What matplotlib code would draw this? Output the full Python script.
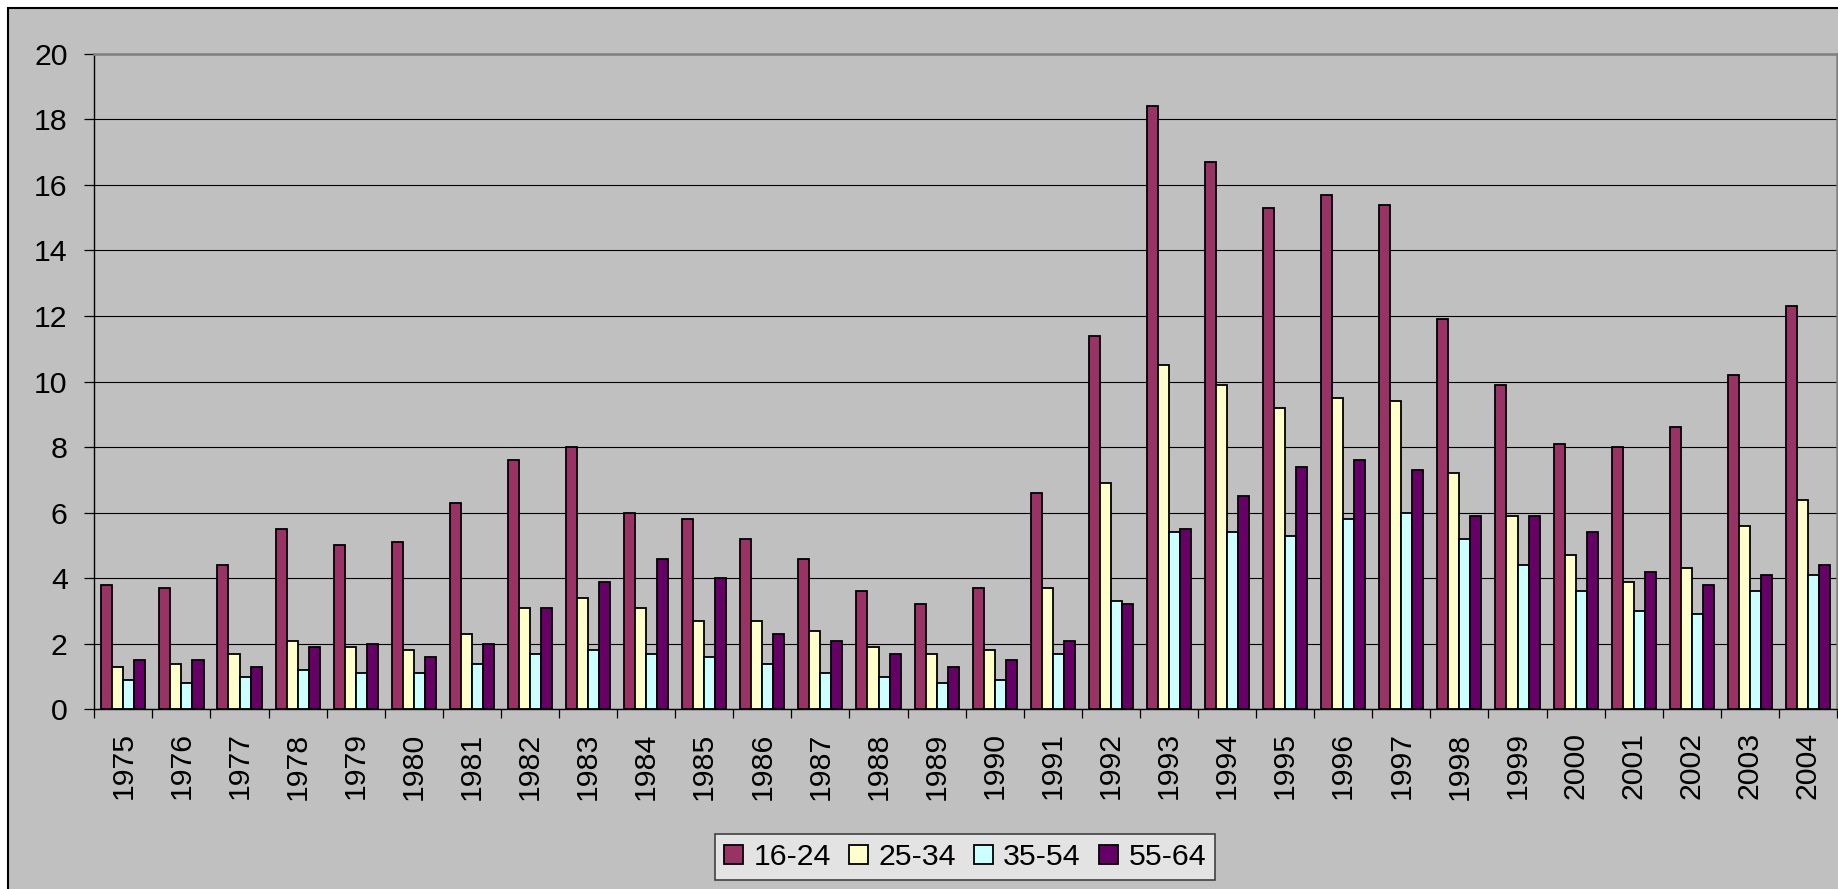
import matplotlib.pyplot as plt
from matplotlib.patches import Rectangle
import numpy as np

years = [str(y) for y in range(1975, 2005)]
series_names = ['16-24', '25-34', '35-54', '55-64']

age_16_24 = [3.8, 3.7, 4.4, 5.5, 5.0, 5.1, 6.3, 7.6, 8.0, 6.0,
             5.8, 5.2, 4.6, 3.6, 3.2, 3.7, 6.6, 11.4, 18.4, 16.7,
             15.3, 15.7, 15.4, 11.9, 9.9, 8.1, 8.0, 8.6, 10.2, 12.3]
age_25_34 = [1.3, 1.4, 1.7, 2.1, 1.9, 1.8, 2.3, 3.1, 3.4, 3.1,
             2.7, 2.7, 2.4, 1.9, 1.7, 1.8, 3.7, 6.9, 10.5, 9.9,
             9.2, 9.5, 9.4, 7.2, 5.9, 4.7, 3.9, 4.3, 5.6, 6.4]
age_35_54 = [0.9, 0.8, 1.0, 1.2, 1.1, 1.1, 1.4, 1.7, 1.8, 1.7,
             1.6, 1.4, 1.1, 1.0, 0.8, 0.9, 1.7, 3.3, 5.4, 5.4,
             5.3, 5.8, 6.0, 5.2, 4.4, 3.6, 3.0, 2.9, 3.6, 4.1]
age_55_64 = [1.5, 1.5, 1.3, 1.9, 2.0, 1.6, 2.0, 3.1, 3.9, 4.6,
             4.0, 2.3, 2.1, 1.7, 1.3, 1.5, 2.1, 3.2, 5.5, 6.5,
             7.4, 7.6, 7.3, 5.9, 5.9, 5.4, 4.2, 3.8, 4.1, 4.4]

colors = ['#993366', '#FFFFCC', '#CCFFFF', '#660066']

plt.rcParams['font.family'] = ['Liberation Sans', 'DejaVu Sans']
fs = 21.8

fig = plt.figure(figsize=(18.38, 8.89), dpi=100)
fig.patch.set_facecolor('white')
# grey chart area with black frame (right/bottom edges run off the image)
fig.patches.append(Rectangle((8 / 1838, -0.1), 1.2, 1.1 - 8 / 889,
                             transform=fig.transFigure, facecolor='#C0C0C0',
                             edgecolor='black', linewidth=1.5, zorder=-5))

ax = fig.add_axes([94.3 / 1838, 1 - 709.4 / 889, (1837 - 94.3) / 1838, (709.4 - 53.7) / 889])
ax.set_facecolor('#C0C0C0')

x = np.arange(len(years))
bw = 0.19
all_series = [age_16_24, age_25_34, age_35_54, age_55_64]
for i, (vals, name, col) in enumerate(zip(all_series, series_names, colors)):
    ax.bar(x + (i - 1.5) * bw, vals, width=bw, color=col, edgecolor='black',
           linewidth=1.3, label=name)

ax.set_xlim(-0.5, len(years) - 0.5)
ax.set_ylim(0, 20)
ax.set_yticks(range(0, 21, 2))
ax.set_axisbelow(True)
ax.yaxis.grid(True, color='black', linewidth=0.8)

ax.set_xticks(x)
ax.set_xticklabels(years, rotation=90, fontsize=fs)
ax.set_xticks(np.arange(-0.5, len(years)), minor=True)
ax.tick_params(axis='x', which='major', length=0, pad=16.5)
ax.tick_params(axis='x', which='minor', length=6.8, width=0.9, direction='out')
ax.tick_params(axis='y', length=7.2, width=0.9, pad=12, labelsize=fs)

for side in ['left', 'bottom']:
    ax.spines[side].set_color('black')
    ax.spines[side].set_linewidth(1.0)
for side in ['top', 'right']:
    ax.spines[side].set_color('#808080')
    ax.spines[side].set_linewidth(1.8)

leg = fig.legend(loc='center', bbox_to_anchor=(965 / 1838, 1 - 857 / 889), ncol=4,
                 fontsize=fs, frameon=True, fancybox=False, handlelength=0.64,
                 handleheight=0.6, handletextpad=0.33, columnspacing=0.6,
                 borderpad=0.3, borderaxespad=0)
leg.get_frame().set_facecolor('#E3E3E3')
leg.get_frame().set_edgecolor('#404040')
leg.get_frame().set_linewidth(1.2)
leg.get_frame().set_alpha(1)

fig.savefig('out.png', dpi=100)
